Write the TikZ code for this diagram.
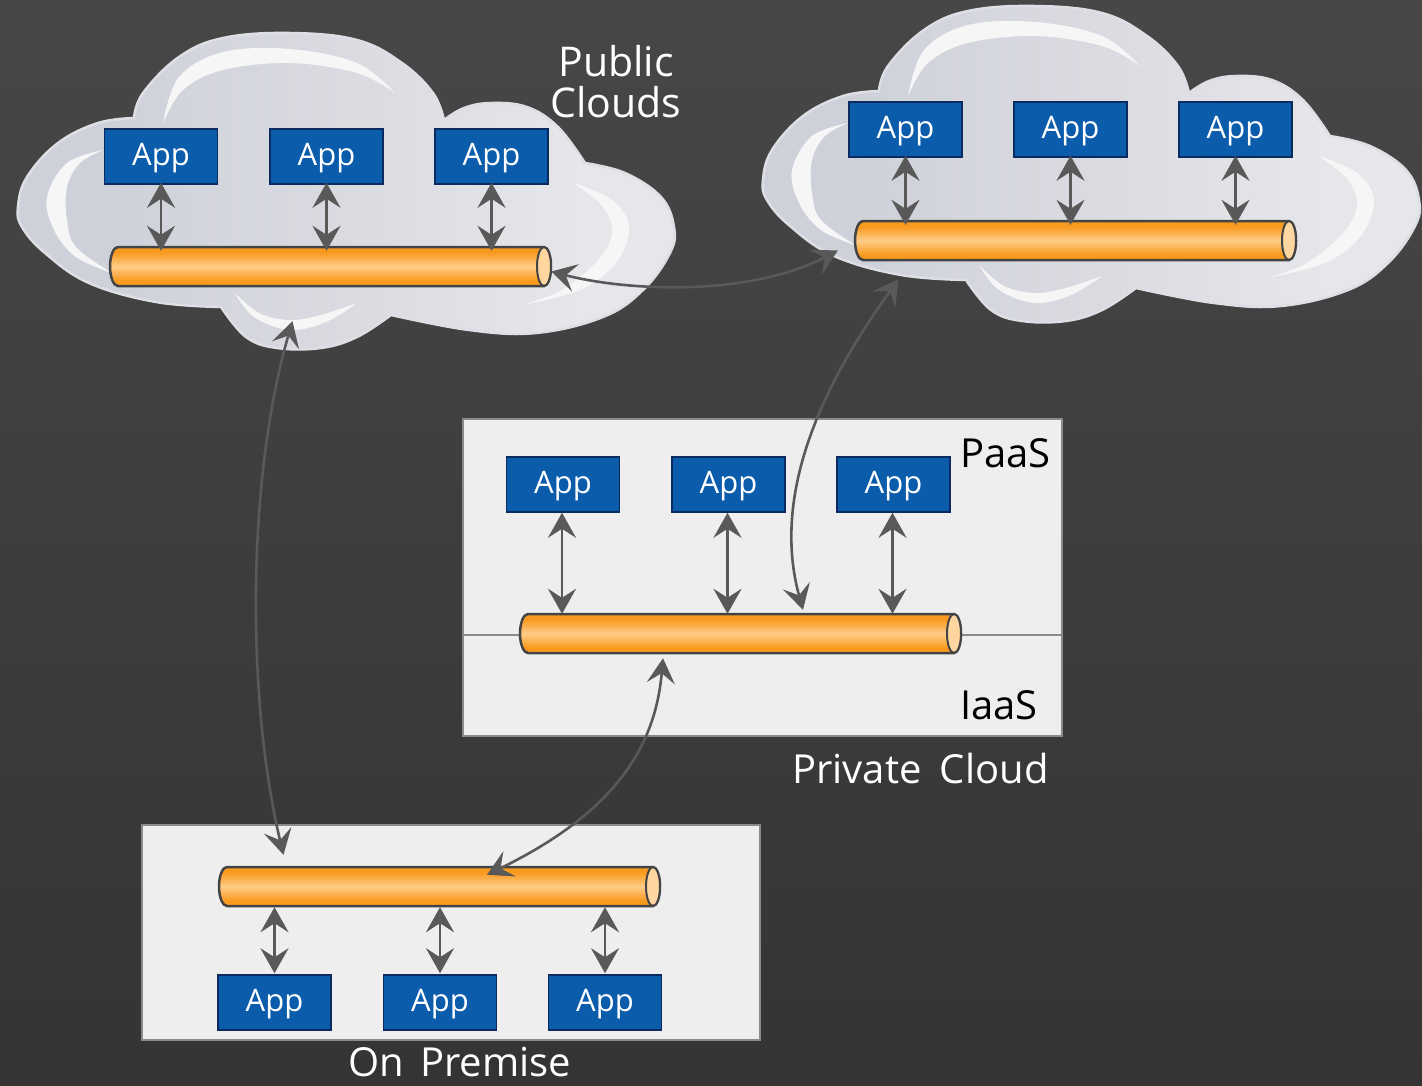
\documentclass[tikz,border=0pt]{standalone}
\usepackage{fontspec}
\setmainfont{Open Sans}
\usetikzlibrary{arrows.meta,calc}
\definecolor{busO}{HTML}{F99A1F}
\definecolor{busL}{HTML}{FFCC88}
\definecolor{cldL}{HTML}{CFD1DA}
\definecolor{cldM}{HTML}{DADBE1}
\definecolor{cldR}{HTML}{E6E7EA}
\definecolor{bgT}{HTML}{474747}
\definecolor{bgB}{HTML}{343434}
\definecolor{arrowc}{HTML}{595959}
\definecolor{appblue}{HTML}{0B5DAB}
\definecolor{appline}{HTML}{0A2A60}
\definecolor{panelline}{HTML}{8A8A8A}
\definecolor{panelfill}{HTML}{EEEEEE}
\definecolor{cldH}{HTML}{F6F6F7}
\definecolor{cldE}{HTML}{DEDFE4}
\definecolor{busline}{HTML}{444444}
\pgfdeclareverticalshading{busshade}{100bp}{color(0bp)=(busO);color(32bp)=(busO);color(50bp)=(busL);color(68bp)=(busO);color(100bp)=(busO)}
\pgfdeclarehorizontalshading{cldshade}{100bp}{color(0bp)=(cldL);color(32bp)=(cldL);color(50bp)=(cldM);color(68bp)=(cldR);color(100bp)=(cldR)}
\tikzset{
  appbox/.style={draw=appline,line width=1.5pt,fill=appblue,text=white,minimum width=113pt,minimum height=55pt,inner sep=0pt,text depth=4pt,font=\fontsize{31}{33}\selectfont},
  busnode/.style={minimum width=441pt,minimum height=39pt,inner sep=0pt},
  panel/.style={draw=panelline,line width=1.5pt,fill=panelfill},
  dbl/.style={draw=arrowc,line width=2.8pt,{Stealth[length=25pt,width=28pt,inset=9pt,color=arrowc]}-{Stealth[length=25pt,width=28pt,inset=9pt,color=arrowc]}},
  curve/.style={draw=arrowc,line width=2.6pt,{Stealth[length=25pt,width=28pt,inset=10pt,color=arrowc]}-{Stealth[length=25pt,width=28pt,inset=10pt,color=arrowc]}},
  bigtext/.style={text=white,font=\fontsize{40}{40}\selectfont,inner sep=0pt,align=center},
  cloudtext/.style={text=white,font=\fontsize{41}{41}\selectfont,inner sep=0pt,align=center},
  darktext/.style={text=black,font=\fontsize{40}{40}\selectfont,inner sep=0pt},
  highlight/.style={fill=cldH,draw=none},
}
% x, top y: body and end cap of a bus
\newcommand{\busbody}[3]{%
  \path[shading=busshade,draw=busline,line width=2.5pt]
    (#1+8,#2) -- (#1+434,#2) arc[start angle=90,end angle=-90,x radius=7,y radius=-19.5] -- (#1+8,#2+39)
    arc[start angle=270,end angle=90,x radius=8,y radius=-19.5] -- cycle;
  \path[fill=busL!80!white,draw=busline,line width=2pt] (#1+434,#2+19.5) ellipse[x radius=7,y radius=19.5];
  \node[busnode] (#3) at (#1+220.5,#2+19.5) {};
}
\newcommand{\cloudshape}{%
  \path[shading=cldshade,draw=cldE,line width=2.5pt]
    plot[smooth,tension=.65] coordinates {(134,118)(143,93)(179,57)(223,38)(290,33)(357,40)(402,63)(433,93)(444,120)}
    -- plot[smooth,tension=.65] coordinates {(444,120)(464,108)(491,103)(527,107)(558,127)(585,163)}
    -- plot[smooth,tension=.65] coordinates {(585,163)(625,173)(661,197)(674,227)(670,253)(643,290)(603,317)(536,333)(469,330)(391,315)}
    -- plot[smooth,tension=.65] coordinates {(391,315)(357,337)(321,348)(277,348)(246,337)(221,307)}
    -- plot[smooth,tension=.65] coordinates {(221,307)(156,302)(89,283)(45,253)(22,227)(18,207)(27,177)(58,143)(98,123)(134,118)}
    -- cycle;
  \path[highlight] plot[smooth,tension=.6] coordinates {(163,123)(179,77)(223,52)(290,49)(357,63)(395,93)}
    -- plot[smooth,tension=.6] coordinates {(395,93)(357,73)(290,63)(223,70)(183,90)(163,123)} -- cycle;
  \path[highlight] plot[smooth,tension=.6] coordinates {(103,150)(67,163)(47,197)(54,230)(76,257)(112,273)}
    -- plot[smooth,tension=.6] coordinates {(112,273)(76,247)(67,220)(67,187)(80,163)(103,150)} -- cycle;
  \path[highlight] plot[smooth,tension=.6] coordinates {(574,183)(612,200)(629,227)(616,263)(580,290)(522,305)}
    -- plot[smooth,tension=.6] coordinates {(522,305)(562,290)(598,260)(612,233)(603,207)(574,183)} -- cycle;
  \path[highlight] plot[smooth,tension=.6] coordinates {(234,292)(254,317)(290,330)(326,322)(357,303)}
    -- plot[smooth,tension=.6] coordinates {(357,303)(321,315)(290,320)(259,313)(234,292)} -- cycle;
}
\begin{document}
\begin{tikzpicture}[x=1pt,y=-1pt]
\useasboundingbox (0,0) rectangle (1422,1085);
\path[top color=bgT,bottom color=bgB] (0,0) rectangle (1422,1085);

% clouds
\begin{scope}\cloudshape\end{scope}
\begin{scope}[shift={(745,-27)}]\cloudshape\end{scope}

% panels
\path[panel] (463,419) rectangle (1062,736);
\path[panel] (142,825) rectangle (760,1040);
\draw[panelline,line width=1.5pt] (463,635) -- (1062,635);

% buses
\busbody{110}{247}{busA}
\busbody{855}{221}{busB}
\busbody{520}{614}{busC}
\busbody{219}{867}{busD}

% apps
\node[appbox] (a1) at (161,156.5) {App};
\node[appbox] (a2) at (326.5,156.5) {App};
\node[appbox] (a3) at (491.5,156.5) {App};
\node[appbox] (b1) at (905.5,129.5) {App};
\node[appbox] (b2) at (1070.5,129.5) {App};
\node[appbox] (b3) at (1235.5,129.5) {App};
\node[appbox] (c1) at (563,484.5) {App};
\node[appbox] (c2) at (728.5,484.5) {App};
\node[appbox] (c3) at (893.5,484.5) {App};
\node[appbox] (d1) at (274.5,1002.5) {App};
\node[appbox] (d2) at (440,1002.5) {App};
\node[appbox] (d3) at (605,1002.5) {App};

% app to bus connectors
\foreach \p in {a1,a2,a3}{\draw[dbl,shorten <=-2pt,shorten >=-4pt] (\p.south) -- (\p.south |- busA.north);}
\foreach \p in {b1,b2,b3}{\draw[dbl,shorten <=-2pt,shorten >=-4pt] (\p.south) -- (\p.south |- busB.north);}
\foreach \p in {c1,c2,c3}{\draw[dbl] ([xshift=-1pt]\p.south) -- ([xshift=-1pt]\p.south |- busC.north);}
\foreach \p in {d1,d2,d3}{\draw[dbl,shorten <=1pt,shorten >=1pt] (\p.north) -- (\p.north |- busD.south);}

% long curves
\draw[curve] ([shift={(0,5)}]busA.east) .. controls +(77,20) and +(-88,46) .. ([shift={(-17,10)}]busB.west);
\draw[curve] ([shift={(-38,35)}]busA.south) .. controls +(-46,158) and +(-37,-155) .. ([shift={(-156,-12)}]busD.north);
\draw[curve] ([shift={(-177,19)}]busB.south) .. controls +(-58,81) and +(-36,-130) .. ([shift={(62.5,-4)}]busC.north);
\draw[curve] ([shift={(-77.5,5)}]busC.south) .. controls +(-8,93) and +(123,-60) .. ([shift={(47.5,8)}]busD.north);

% labels
\node[cloudtext] (t1) at (616,82) {Public\\[0pt]Clouds};
\node[darktext,anchor=west] (t2) at (960,453) {PaaS};
\node[darktext,anchor=west] (t3) at (960,705) {IaaS};
\node[bigtext,anchor=west] (t4) at (792,768) {Private\hspace{0.2em} Cloud};
\node[bigtext,anchor=west] (t5) at (348,1062) {On\hspace{0.15em} Premise};
\end{tikzpicture}
\end{document}
